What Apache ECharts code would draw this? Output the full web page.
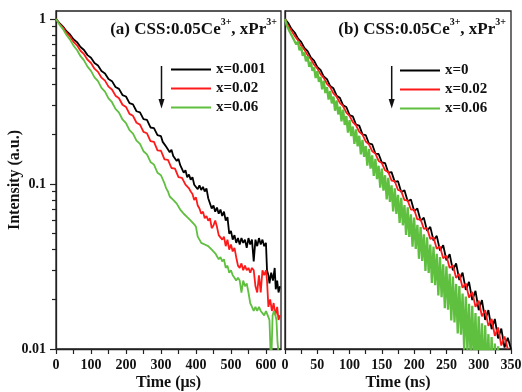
<!DOCTYPE html>
<html><head><meta charset="utf-8">
<script src="https://cdn.jsdelivr.net/npm/echarts@6/dist/echarts.min.js"></script>
<style>html,body{margin:0;padding:0;background:#fff}#c{width:522px;height:392px}</style>
</head><body><div id="c"></div>
<script>
const FONT = '"Liberation Serif","Times New Roman",serif';
const namesA = ['x=0.001', 'x=0.02', 'x=0.06'];
const namesB = ['x=0', 'x=0.02', 'x=0.06'];
const colors = ['#000000', '#ff1a1a', '#5fbf3f'];

// Panel (a): time in µs, normalized intensity
const a_x0001 = [[0,1.00],[10,0.944],[20,0.899],[30,0.843],[40,0.806],[50,0.754],[60,0.724],[70,0.676],[80,0.649],[90,0.604],[100,0.582],[110,0.541],[120,0.522],[130,0.484],[140,0.468],[150,0.433],[160,0.420],[170,0.387],[180,0.377],[190,0.346],[200,0.339],[210,0.309],[220,0.304],[230,0.276],[240,0.272],[250,0.247],[260,0.245],[270,0.220],[280,0.218],[290,0.198],[300,0.195],
[305,0.180],[310,0.182],[315,0.168],[320,0.170],[325,0.156],[330,0.161],[335,0.148],[340,0.150],[345,0.138],[350,0.142],[355,0.130],[360,0.128],[365,0.117],[370,0.121],[375,0.110],[380,0.114],[385,0.106],[390,0.110],[395,0.099],[400,0.101],[405,0.093],[410,0.098],[415,0.092],[420,0.096],[425,0.090],[430,0.094],[435,0.082],[440,0.080],[445,0.071],[450,0.074],[455,0.068],[460,0.072],[465,0.066],[470,0.070],[475,0.064],[480,0.068],[485,0.060],[490,0.063],[495,0.050],[500,0.052],[505,0.046],[510,0.049],[515,0.044],[520,0.047],[525,0.043],[530,0.047],[535,0.044],[540,0.046],[545,0.041],[550,0.047],[555,0.043],[560,0.046],[565,0.034],[570,0.046],[575,0.042],[580,0.047],[585,0.043],[590,0.046],[595,0.042],[600,0.044],[603,0.030],[607,0.028],[610,0.025],[615,0.029],[620,0.026],[625,0.031],[628,0.023],[632,0.026],[636,0.022],[640,0.024]];
const a_x002 = [[0,1.00],[10,0.936],[20,0.887],[30,0.826],[40,0.784],[50,0.728],[60,0.693],[70,0.642],[80,0.612],[90,0.567],[100,0.541],[110,0.500],[120,0.478],[130,0.441],[140,0.423],[150,0.389],[160,0.374],[170,0.343],[180,0.331],[190,0.302],[200,0.293],[210,0.266],[220,0.259],[230,0.235],[240,0.229],[250,0.207],[260,0.203],[270,0.182],[280,0.180],[290,0.160],[300,0.159],[310,0.141],[320,0.140],[330,0.125],[340,0.124],[350,0.110],[360,0.109],[370,0.099],
[375,0.097],[380,0.094],[385,0.090],[390,0.087],[395,0.080],[400,0.083],[405,0.074],[410,0.071],[415,0.066],[420,0.068],[425,0.062],[430,0.064],[435,0.060],[440,0.062],[445,0.054],[450,0.056],[455,0.060],[460,0.055],[465,0.049],[470,0.050],[475,0.046],[480,0.048],[485,0.042],[490,0.046],[495,0.040],[500,0.043],[505,0.039],[510,0.041],[515,0.036],[520,0.032],[525,0.031],[530,0.033],[535,0.030],[540,0.032],[545,0.030],[550,0.031],[555,0.029],[560,0.031],[565,0.030],[570,0.024],[575,0.022],[580,0.028],[585,0.022],[590,0.030],[595,0.028],[600,0.030],[603,0.026],[607,0.018],[612,0.020],[617,0.017],[622,0.019],[627,0.016],[632,0.018],[636,0.015],[640,0.016]];
const a_x006 = [[0,1.00],[10,0.925],[20,0.868],[30,0.799],[40,0.750],[50,0.690],[60,0.649],[70,0.595],[80,0.561],[90,0.514],[100,0.485],[110,0.443],[120,0.420],[130,0.382],[140,0.363],[150,0.330],[160,0.313],[170,0.285],[180,0.271],[190,0.246],[200,0.234],[210,0.212],[220,0.202],[230,0.183],[240,0.175],[250,0.158],[260,0.151],[270,0.136],[280,0.131],[290,0.117],[300,0.113],[310,0.101],
[315,0.094],[320,0.090],[325,0.084],[330,0.085],[335,0.080],[340,0.081],[345,0.076],[350,0.074],[355,0.070],[360,0.068],[365,0.066],[370,0.067],[375,0.063],[380,0.064],[385,0.060],[390,0.061],[395,0.057],[400,0.055],[405,0.048],[410,0.046],[415,0.044],[420,0.045],[425,0.043],[430,0.044],[435,0.042],[440,0.043],[445,0.040],[450,0.041],[455,0.038],[460,0.037],[465,0.035],[470,0.036],[475,0.034],[480,0.035],[485,0.031],[490,0.032],[495,0.029],[500,0.030],[505,0.028],[510,0.027],[515,0.026],[520,0.027],[525,0.026],[530,0.022],[535,0.026],[540,0.024],[545,0.025],[550,0.022],[555,0.019],[560,0.018],[565,0.017],[570,0.018],[575,0.017],[580,0.018],[585,0.017],[590,0.017],[595,0.016],[600,0.017],[605,0.016],[610,0.015],[613,0.0098],[616,0.0095],[619,0.016],[623,0.017],[627,0.016],[630,0.015],[633,0.011],[636,0.0095],[640,0.009]];

// Panel (b): time in ns
const b_x0 = [[0,1.00],[5,0.945],[10,0.870],[15,0.828],[20,0.762],[25,0.727],[30,0.668],[35,0.638],[40,0.585],[45,0.560],[50,0.512],[55,0.492],[60,0.448],[65,0.432],[70,0.392],[75,0.380],[80,0.343],[85,0.333],[90,0.300],[95,0.293],[100,0.262],[105,0.257],[110,0.229],[115,0.226],[120,0.200],[125,0.198],[130,0.176],[135,0.174],[140,0.153],[145,0.152],[150,0.135],[155,0.134],[160,0.117],[165,0.118],[170,0.103],[175,0.104],[180,0.0895],[185,0.0915],[190,0.0785],[195,0.0805],[200,0.0685],[205,0.0710],[210,0.0598],[215,0.0625],[220,0.0520],[225,0.0550],[230,0.0455],[235,0.0485],[240,0.0395],[245,0.0425],[250,0.0345],[255,0.0375],[260,0.0300],[265,0.0330],[270,0.0262],[275,0.0290],[280,0.0228],[285,0.0255],[290,0.0198],[295,0.0225],[300,0.0172],[305,0.0198],[310,0.0150],[315,0.0172],[320,0.0132],[325,0.0152],[330,0.0116],[335,0.0133],[340,0.0102],[345,0.0117],[350,0.0100]];
const b_x002 = [[0,1.00],[5,0.905],[10,0.850],[15,0.790],[20,0.745],[25,0.690],[30,0.652],[35,0.604],[40,0.572],[45,0.528],[50,0.502],[55,0.463],[60,0.440],[65,0.405],[70,0.386],[75,0.354],[80,0.338],[85,0.310],[90,0.296],[95,0.271],[100,0.259],[105,0.237],[110,0.227],[115,0.207],[120,0.199],[125,0.181],[130,0.174],[135,0.158],[140,0.153],[145,0.138],[150,0.134],[155,0.121],[160,0.118],[165,0.105],[170,0.104],[175,0.0920],[180,0.0905],[185,0.0800],[190,0.0795],[195,0.0700],[200,0.0700],[205,0.0610],[210,0.0612],[215,0.0535],[220,0.0540],[225,0.0465],[230,0.0475],[235,0.0405],[240,0.0418],[245,0.0355],[250,0.0368],[255,0.0310],[260,0.0322],[265,0.0270],[270,0.0285],[275,0.0235],[280,0.0250],[285,0.0205],[290,0.0222],[295,0.0180],[300,0.0196],[305,0.0158],[310,0.0172],[315,0.0138],[320,0.0152],[325,0.0120],[330,0.0135],[335,0.0105],[340,0.0119],[345,0.0100]];
const b_x006 = [[0,1.00],[2.5,0.920],[5,0.908],[7.5,0.834],[10,0.842],[12.5,0.764],[15,0.780],[17.5,0.700],[20,0.731],[22.5,0.647],[25,0.677],[27.5,0.599],[30,0.627],[32.5,0.554],[35,0.593],[37.5,0.513],[40,0.550],[42.5,0.486],[45,0.509],[47.5,0.439],[50,0.482],[52.5,0.416],[55,0.446],[57.5,0.375],[60,0.422],[62.5,0.356],[65,0.387],[67.5,0.325],[70,0.366],[72.5,0.308],[75,0.339],[77.5,0.278],[80,0.321],[82.5,0.264],[85,0.294],[87.5,0.240],[90,0.282],[92.5,0.228],[95,0.258],[97.5,0.205],[100,0.244],[102.5,0.195],[105,0.223],[107.5,0.175],[110,0.214],[112.5,0.169],[115,0.196],[117.5,0.151],[120,0.185],[122.5,0.146],[125,0.170],[127.5,0.129],[130,0.163],[132.5,0.124],[135,0.149],[137.5,0.112],[140,0.142],[142.5,0.107],[145,0.129],[147.5,0.0950],[150,0.124],[152.5,0.0911],[155,0.113],[157.5,0.0806],[160,0.109],[162.5,0.0779],[165,0.0980],[167.5,0.0682],[170,0.0942],[172.5,0.0659],[175,0.0860],[177.5,0.0581],[180,0.0824],[182.5,0.0562],[185,0.0745],[187.5,0.0492],[190,0.0722],[192.5,0.0477],[195,0.0654],[197.5,0.0417],[200,0.0626],[202.5,0.0404],[205,0.0566],[207.5,0.0352],[210,0.0549],[212.5,0.0342],[215,0.0496],[217.5,0.0297],[220,0.0476],[222.5,0.0289],[225,0.0430],[227.5,0.0251],[230,0.0417],[232.5,0.0244],[235,0.0377],[237.5,0.0211],[240,0.0361],[242.5,0.0206],[245,0.0326],[247.5,0.0177],[250,0.0317],[252.5,0.0173],[255,0.0286],[257.5,0.0149],[260,0.0275],[262.5,0.0145],[265,0.0248],[267.5,0.0124],[270,0.0241],[272.5,0.0122],[275,0.0217],[277.5,0.0099],[280,0.0208],[282.5,0.0097],[285,0.0188],[287.5,0.0087],[290,0.0183],[292.5,0.0085],[295,0.0165],[297.5,0.0072],[300,0.0158],[302.5,0.0071],[305,0.0143],[307.5,0.0063],[310,0.0139],[312.5,0.0066],[315,0.0123],[317.5,0.0061],[320,0.0118],[322.5,0.0058],[325,0.0108],[327.5,0.0054],[330,0.0104],[332.5,0.0050]];

const xLabelsA = [0, 100, 200, 300, 400, 500, 600];
const xTicksA = [0, 50, 100, 150, 200, 250, 300, 350, 400, 450, 500, 550, 600];
const xLabelsB = [0, 50, 100, 150, 200, 250, 300, 350];
const xTicksB = [0, 25, 50, 75, 100, 125, 150, 175, 200, 225, 250, 275, 300, 325, 350];
const yMajor = [0.01, 0.1, 1];
const yMinor = [0.02, 0.03, 0.04, 0.05, 0.06, 0.07, 0.08, 0.09, 0.2, 0.3, 0.4, 0.5, 0.6, 0.7, 0.8, 0.9];

const chart = echarts.init(document.getElementById('c'), null, {renderer: 'canvas'});
const txt = {fontFamily: FONT, fontWeight: 'bold', color: '#111'};
const YMIN = 0.01, YMAX = 1.118;

function xAxisFor(grid, max, labels, ticks, name) {
  return {
    gridIndex: grid, type: 'value', min: 0, max: max,
    axisLine: {show: true, lineStyle: {color: '#222', width: 1.3}},
    splitLine: {show: false},
    axisTick: {show: true, customValues: ticks, length: 5, lineStyle: {color: '#222', width: 1.2}},
    axisLabel: Object.assign({customValues: labels, margin: 9, fontSize: 14}, txt),
    name: name, nameLocation: 'middle', nameGap: 26, nameMoveOverlap: false,
    nameTextStyle: Object.assign({fontSize: 16}, txt)
  };
}

const gridBase = {outerBoundsMode: 'none', containLabel: false, show: true, borderColor: '#222', borderWidth: 1.3, backgroundColor: 'transparent'};
const option = {
  backgroundColor: '#fff',
  animation: false,
  grid: [
    Object.assign({left: 56, top: 11, width: 225, height: 338}, gridBase),
    Object.assign({left: 285, top: 11, width: 226, height: 338}, gridBase)
  ],
  xAxis: [
    xAxisFor(0, 643, xLabelsA, xTicksA, 'Time (\u03bcs)'),
    xAxisFor(1, 350, xLabelsB, xTicksB, 'Time (ns)')
  ],
  yAxis: [
    {gridIndex: 0, type: 'log', min: YMIN, max: YMAX, position: 'left',
     axisLine: {show: true, lineStyle: {color: '#222', width: 1.3}}, splitLine: {show: false},
     axisTick: {show: true, customValues: yMajor, length: 6, lineStyle: {color: '#222', width: 1.2}},
     axisLabel: Object.assign({customValues: yMajor, margin: 10, fontSize: 14,
       formatter: function (v) { return v > 0.5 ? '1' : (v > 0.05 ? '0.1' : '0.01'); }}, txt),
     name: 'Intensity (a.u.)', nameLocation: 'middle', nameGap: 33, nameRotate: 90, nameMoveOverlap: false,
     nameTextStyle: Object.assign({fontSize: 16}, txt)},
    {gridIndex: 0, type: 'log', min: YMIN, max: YMAX, position: 'left',
     axisLine: {show: false}, splitLine: {show: false},
     axisTick: {show: true, customValues: yMinor, length: 4, lineStyle: {color: '#222', width: 1.2}},
     axisLabel: {show: false}},
    {gridIndex: 1, type: 'log', min: YMIN, max: YMAX, position: 'left',
     axisLine: {show: true, lineStyle: {color: '#222', width: 1.3}}, splitLine: {show: false},
     axisTick: {show: false}, axisLabel: {show: false}}
  ],
  legend: [
    {data: namesA, orient: 'vertical', left: 171, top: 62, padding: 0, itemWidth: 40, itemHeight: 2, icon: 'rect',
     itemGap: 4, selectedMode: false, textStyle: Object.assign({fontSize: 15, lineHeight: 15}, txt)},
    {data: namesB, orient: 'vertical', left: 400, top: 63, padding: 0, itemWidth: 40, itemHeight: 2, icon: 'rect',
     itemGap: 4, selectedMode: false, textStyle: Object.assign({fontSize: 15, lineHeight: 15}, txt)}
  ],
  series: [],
  graphic: []
};

const panelA = [a_x0001, a_x002, a_x006];
const panelB = [b_x0, b_x002, b_x006];
const widthsB = [1.8, 1.8, 2.3];
panelA.forEach(function (d, i) {
  option.series.push({type: 'line', name: namesA[i], xAxisIndex: 0, yAxisIndex: 0, data: d,
    symbol: 'none', showSymbol: false, clip: true, color: colors[i],
    lineStyle: {color: colors[i], width: 1.8}});
});
panelB.forEach(function (d, i) {
  option.series.push({type: 'line', name: namesB[i], xAxisIndex: 1, yAxisIndex: 2, data: d,
    symbol: 'none', showSymbol: false, clip: true, color: colors[i],
    lineStyle: {color: colors[i], width: widthsB[i]}});
});

function titleEl(label, xRight) {
  return {type: 'text', x: xRight, y: 17.5, z: 100,
    style: {text: '{b|' + label + ' CSS:0.05Ce}{s|3+}{b|, xPr}{s|3+}', align: 'right', verticalAlign: 'top', fill: '#111',
      rich: {
        b: {fontSize: 17, fontWeight: 'bold', fontFamily: FONT, lineHeight: 21, verticalAlign: 'bottom', fill: '#111'},
        s: {fontSize: 10, fontWeight: 'bold', fontFamily: FONT, verticalAlign: 'top', fill: '#111'}
      }}};
}
function arrowEls(x) {
  return [
    {type: 'line', z: 100, shape: {x1: x, y1: 66, x2: x, y2: 100}, style: {stroke: '#111', lineWidth: 1.5}},
    {type: 'polygon', z: 100, shape: {points: [[x - 3, 99], [x + 3, 99], [x, 108.5]]}, style: {fill: '#111'}}
  ];
}
option.graphic = [titleEl('(a)', 277), titleEl('(b)', 506)].concat(arrowEls(161.5), arrowEls(391.7));
chart.setOption(option);
</script></body></html>
